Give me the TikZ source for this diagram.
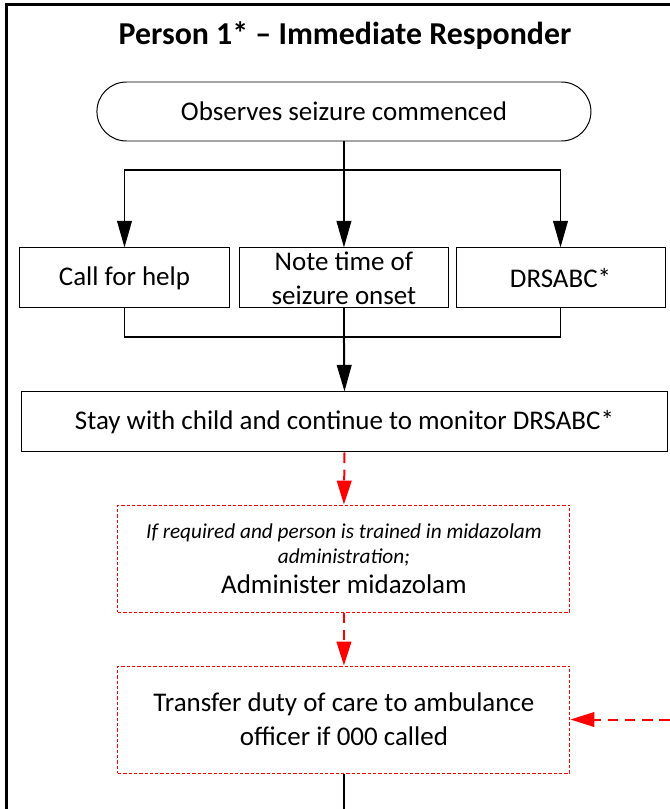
\documentclass[tikz,border=0pt]{standalone}
\usepackage{fontspec}
\setmainfont{Carlito}
\usepackage{tikz}
\usetikzlibrary{arrows.meta}
\pgfdeclarelayer{bg}
\pgfsetlayers{bg,main}
\tikzset{
    every node/.style={inner sep=0mm, align=center, font=\fontsize{20.3}{25.5}\selectfont}
}
\tikzset{stepbox/.style={rectangle, draw, line width=0.75pt, minimum width=5.530cm, minimum height=1.587cm}}
\tikzset{startbox/.style={rectangle, draw, line width=0.75pt, rounded corners=0.78cm, minimum width=13.070cm, minimum height=1.561cm}}
\tikzset{optbox/.style={rectangle, draw=red, line width=0.75pt, dash pattern=on 2.5pt off 1.5pt, minimum width=11.959cm, minimum height=2.831cm}}
\tikzset{flow/.style={line width=1.5pt, -{Triangle[length=20pt, width=11pt]}}}
\tikzset{optflow/.style={draw=red, line width=1.5pt, dash pattern=on 8pt off 5pt, -{Triangle[length=18pt, width=11pt]}}}

\begin{document}
\begin{tikzpicture}
        \useasboundingbox (0cm, 0cm) rectangle (17.727000cm, -21.405000cm);
        \draw [line width=2.25pt] (0.185000cm, -21.405000cm) -- (0.185000cm, -0.106000cm) -- (17.727000cm, -0.106000cm);
        \node (title) [font=\fontsize{24}{28}\selectfont\bfseries] at (9.128000cm, -0.952000cm) {Person 1* – Immediate Responder};
        \node (start) [startbox] at (9.100000cm, -2.950000cm) {Observes seizure commenced};
        \node (help) [stepbox] at (3.294000cm, -7.355000cm) {Call for help};
        \node (note) [stepbox] at (9.100000cm, -7.355000cm) {Note time of\\seizure onset};
        \node (drsabc) [stepbox] at (14.830000cm, -7.355000cm) {DRSABC*};
        \node (stay) [stepbox, minimum width=17.118000cm] at (9.115000cm, -11.165000cm) {Stay with child and continue to monitor DRSABC*};
        \node (midaz) [optbox, font=\fontsize{16}{19}\selectfont] at (9.100000cm, -14.777000cm) {\itshape If required and person is trained in midazolam\\\itshape administration;\\[3pt]{\fontsize{20.3}{20}\selectfont Administer midazolam}};
        \node (transfer) [optbox] at (9.100000cm, -19.037000cm) {Transfer duty of care to ambulance\\officer if 000 called};
        \coordinate (fork) at (9.100000cm, -4.498000cm);
        \coordinate (join) at (9.100000cm, -8.916000cm);
        \coordinate (amb) at (17.727000cm, -19.037000cm);
        \coordinate (cont) at (9.100000cm, -21.405000cm);
        \begin{pgfonlayer}{bg}
                \draw [flow] (start.south) -- (note.north);
                \draw [flow] (fork) -| (help.north);
                \draw [flow] (fork) -| (drsabc.north);
                \draw [line width=1.5pt] (help.south) |- (join) -| (drsabc.south);
                \draw [line width=1.5pt] (note.south) -- (join);
                \draw [flow] (join) -- (stay.north);
                \draw [optflow] (stay.south) -- (midaz.north);
                \draw [optflow] (midaz.south) -- (transfer.north);
                \draw [optflow] (amb) -- (transfer.east);
                \draw [line width=1.2pt] (transfer.south) -- (cont);
        \end{pgfonlayer}
\end{tikzpicture}
\end{document}
